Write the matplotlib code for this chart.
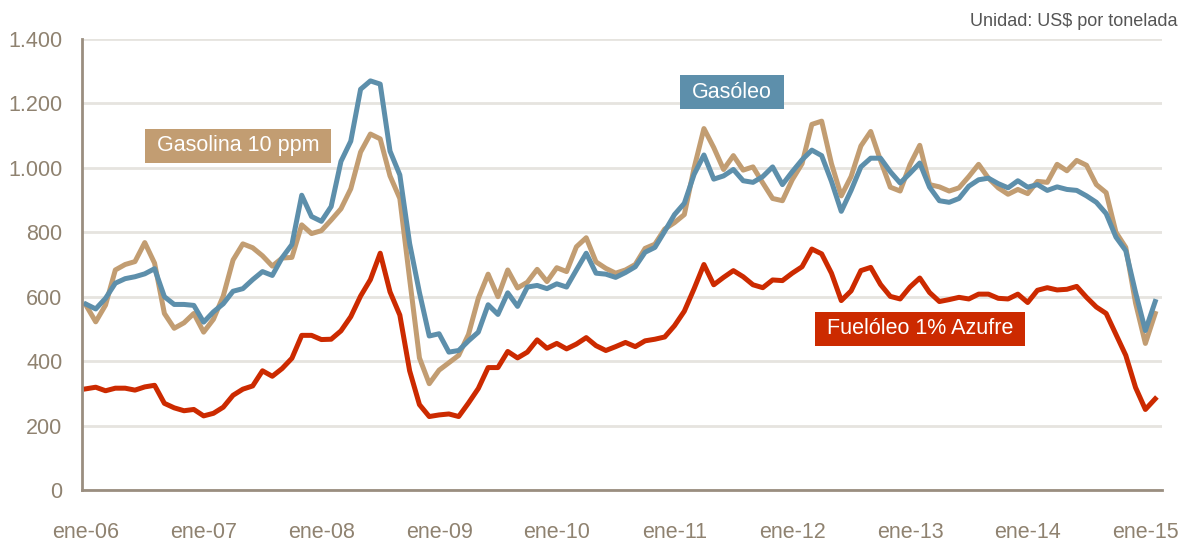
import matplotlib
matplotlib.use("Agg")
import matplotlib.pyplot as plt
from matplotlib.path import Path
from matplotlib.ticker import FuncFormatter
import numpy as np

plt.rcParams['font.family'] = ['Liberation Sans', 'DejaVu Sans']

# precios mensuales ene-06 .. feb-15, US$ por tonelada
gasoleo = [577, 562, 595, 642, 656, 662, 671, 687, 600, 576, 576, 573,
           521, 553, 578, 617, 625, 653, 678, 666, 721, 762, 915, 849,
           834, 880, 1020, 1083, 1244, 1270, 1260, 1052, 978, 765, 613, 478,
           485, 428, 433, 463, 490, 575, 545, 612, 570, 630, 635, 625,
           640, 630, 683, 735, 673, 670, 660, 675, 693, 738, 753, 803,
           855, 890, 980, 1040, 965, 975, 995, 960, 955, 973, 1003, 948,
           988, 1025, 1055, 1038, 958, 865, 930, 1003, 1030, 1030, 988, 953,
           983, 1015, 940, 898, 893, 905, 943, 963, 968, 951, 938, 960,
           940, 948, 930, 941, 933, 930, 913, 893, 858, 785, 743, 613,
           495, 585]
gasolina = [574, 522, 574, 683, 700, 709, 768, 704, 548, 502, 519, 548,
            490, 530, 602, 714, 764, 752, 727, 695, 720, 722, 823, 796,
            805, 838, 873, 935, 1049, 1105, 1090, 975, 905, 655, 410, 330,
            372, 395, 418, 483, 595, 670, 600, 683, 627, 645, 685, 647,
            690, 678, 755, 783, 708, 688, 673, 683, 700, 750, 763, 810,
            830, 855, 1000, 1122, 1063, 995, 1038, 993, 1003, 953, 905, 898,
            963, 1013, 1135, 1145, 1013, 913, 973, 1068, 1113, 1023, 940, 928,
            1010, 1070, 948, 941, 928, 938, 973, 1011, 968, 938, 918, 933,
            920, 958, 955, 1011, 991, 1023, 1008, 948, 923, 800, 753, 580,
            455, 548]
fueloleo = [314, 319, 308, 316, 316, 310, 320, 325, 269, 255, 246, 250,
            230, 238, 257, 294, 313, 323, 370, 353, 377, 409, 480, 480,
            467, 468, 494, 538, 602, 653, 735, 615, 543, 370, 265, 228,
            233, 236, 228, 270, 315, 380, 380, 430, 410, 428, 466, 440,
            455, 438, 453, 473, 448, 433, 445, 458, 445, 463, 468, 475,
            510, 555, 625, 700, 637, 660, 681, 662, 637, 628, 652, 650,
            673, 693, 748, 733, 673, 588, 618, 681, 691, 638, 601, 593,
            630, 658, 613, 585, 591, 598, 593, 608, 608, 595, 593, 608,
            582, 620, 628, 621, 623, 632, 598, 568, 548, 483, 418, 318,
            250, 283]
years = ['ene-06', 'ene-07', 'ene-08', 'ene-09', 'ene-10',
         'ene-11', 'ene-12', 'ene-13', 'ene-14', 'ene-15']

c_gasoleo = '#5d8fab'
c_gasolina = '#c29d72'
c_fuel = '#cc2a00'
c_axis = '#9a8e80'
c_tick = '#8f8270'

x = np.arange(len(gasoleo))

fig = plt.figure(figsize=(11.83, 5.44), dpi=100)
ax = fig.add_axes([0.0693, 0.0993, 0.9130, 0.829])

ax.set_axisbelow(True)
ax.yaxis.grid(True, color='#e6e4df', lw=2)
ax.plot(x, gasolina, color=c_gasolina, lw=3.6)
ax.plot(x, fueloleo, color=c_fuel, lw=3.6)
ax.plot(x, gasoleo, color=c_gasoleo, lw=3.6)

ax.set_ylim(0, 1400)
ax.set_xlim(-0.4, 109.7)
ax.set_yticks(range(0, 1401, 200))
ax.yaxis.set_major_formatter(FuncFormatter(lambda v, p: f'{int(v):,}'.replace(',', '.')))
ax.set_xticks(range(0, 109, 12))
ax.set_xticklabels(years)
ax.tick_params(axis='y', length=0, pad=14, labelsize=15.5, labelcolor=c_tick)
ax.tick_params(axis='x', length=0, pad=23, labelsize=15.5, labelcolor=c_tick)

for s in ['top', 'right']:
    ax.spines[s].set_visible(False)
for s in ['left', 'bottom']:
    ax.spines[s].set_color(c_axis)
    ax.spines[s].set_linewidth(2)


def caja(x0, y0, width, height, mutation_size):
    # rectangulo con mas margen a los lados que arriba y abajo
    px, py = 0.55 * mutation_size, 0.3 * mutation_size
    x0, y0 = x0 - px, y0 - py
    x1, y1 = x0 + width + 2 * px, y0 + height + 2 * py
    return Path([(x0, y0), (x1, y0), (x1, y1), (x0, y1), (x0, y0)], closed=True)


def etiqueta(texto, xf, yf, color):
    fig.text(xf, yf, texto, color='white', fontsize=15.5, ha='center', va='center',
             bbox=dict(boxstyle=caja, fc=color, ec='none'))


etiqueta('Gasolina 10 ppm', 238 / 1183, 1 - 146 / 544, c_gasolina)
etiqueta('Gasóleo', 732 / 1183, 1 - 92 / 544, c_gasoleo)
etiqueta('Fuelóleo 1% Azufre', 920 / 1183, 1 - 329 / 544, c_fuel)

fig.text(1178 / 1183, 1 - 22 / 544, 'Unidad: US$ por tonelada', ha='right', va='center',
         fontsize=13, color='#555555')

fig.savefig('out.png', dpi=100)
